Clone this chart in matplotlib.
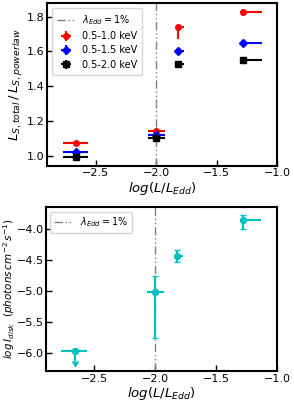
import numpy as np
import matplotlib
matplotlib.use("Agg")
import matplotlib.pyplot as plt

# log(L/LEdd) per observation, with asymmetric x errors
x = [-2.66, -2.0, -1.82, -1.28]
x_lo = [0.11, 0.07, 0.0, 0.0]
x_hi = [0.10, 0.07, 0.05, 0.15]

# soft-band flux ratio total / powerlaw
bands = ["0.5-1.0 keV", "0.5-1.5 keV", "0.5-2.0 keV"]
ratio_10 = [1.075, 1.142, 1.738, 1.825]
ratio_15 = [1.023, 1.119, 1.604, 1.646]
ratio_20 = [0.992, 1.102, 1.526, 1.550]
ratio_10_lo = [0.008, 0.01, 0.065, 0.02]
ratio_15_lo = [0.008, 0.01, 0.015, 0.015]
ratio_20_lo = [0.008, 0.01, 0.005, 0.005]

# disk flux
ldisk = [-5.97, -5.01, -4.43, -3.85]
ldisk_lo = [0.15, 0.74, 0.10, 0.15]
ldisk_hi = [0.0, 0.26, 0.10, 0.08]
ldisk_uplim = [True, False, False, False]

fig = plt.figure(figsize=(2.94, 4.01), dpi=100)
ax1 = fig.add_axes([0.161, 0.587, 0.782, 0.405])
ax2 = fig.add_axes([0.155, 0.075, 0.788, 0.409])

vls = dict(color="gray", lw=1.0, dashes=(6, 2, 1, 2, 1, 2))
xerr = [x_lo, x_hi]

ax1.axvline(-2.0, label=r"$\lambda_{Edd}=1\%$", **vls)
for ys, ylo, c, m, lab in [(ratio_10, ratio_10_lo, "r", "o", bands[0]),
                           (ratio_15, ratio_15_lo, "b", "D", bands[1]),
                           (ratio_20, ratio_20_lo, "k", "s", bands[2])]:
    ax1.errorbar(x, ys, xerr=xerr, yerr=[ylo, [0] * 4], fmt=m, color=c,
                 ms=4, elinewidth=1.5, capsize=0, label=lab)
ax1.set_xlim(-2.9, -1.0)
ax1.set_ylim(0.942, 1.877)
ax1.set_yticks([1.0, 1.2, 1.4, 1.6, 1.8])
ax1.set_xticks([-2.5, -2.0, -1.5, -1.0])
ax1.set_xlabel(r"$log(L/L_{Edd})$", fontsize=9.5, labelpad=1)
ax1.set_ylabel(r"$L_{S,total}\,/\,L_{S,powerlaw}$", fontsize=9.5, labelpad=2)
ax1.legend(loc="upper left", fontsize=7, handlelength=1.8, borderpad=0.5,
           labelspacing=0.45)

ax2.axvline(-2.0, label=r"$\lambda_{Edd}=1\%$", **vls)
# y errors (with the upper-limit arrow), then x errors without caps
ax2.errorbar(x, ldisk, yerr=[ldisk_lo, ldisk_hi], uplims=ldisk_uplim,
             fmt="o", color="c", ms=4, elinewidth=1.5, capsize=2.5)
ax2.errorbar(x, ldisk, xerr=xerr, fmt="o", color="c", ms=4,
             elinewidth=1.5, capsize=0)
ax2.set_xlim(-2.9, -1.0)
ax2.set_ylim(-6.285, -3.64)
ax2.set_yticks([-6.0, -5.5, -5.0, -4.5, -4.0])
ax2.set_xticks([-2.5, -2.0, -1.5, -1.0])
ax2.set_xlabel(r"$log(L/L_{Edd})$", fontsize=9.5, labelpad=1)
ax2.set_ylabel(r"$log\,I_{disk}\ \ (photons\,cm^{-2}\,s^{-1})$", fontsize=7.5, labelpad=0)
ax2.legend(loc="upper left", fontsize=7, handlelength=1.8)

for ax in (ax1, ax2):
    ax.tick_params(direction="in", labelsize=8, length=4, width=1, pad=2)
    for s in ax.spines.values():
        s.set_linewidth(1.5)
ax2.tick_params(axis="y", pad=1)

fig.savefig("out.png", dpi=100)
